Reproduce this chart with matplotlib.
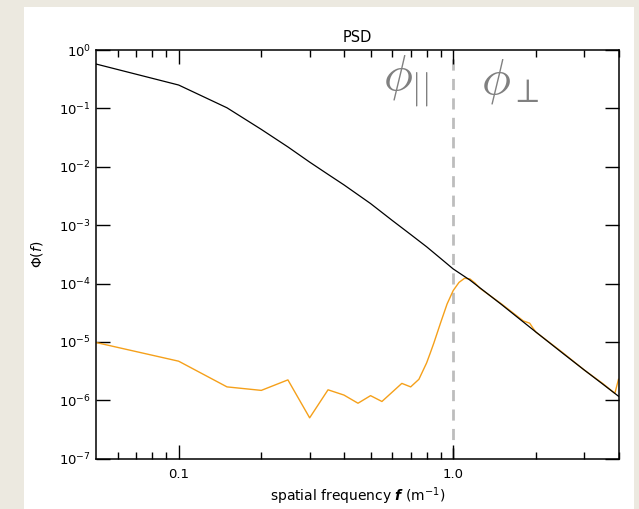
import numpy as np
import matplotlib
matplotlib.use("Agg")
import matplotlib.pyplot as plt
from matplotlib.patches import Rectangle
from matplotlib.ticker import FixedLocator, NullLocator, FixedFormatter

# black curve: total PSD (log10 values)
f_tot = [0.05, 0.1, 0.15, 0.2, 0.25, 0.3, 0.35, 0.4, 0.5, 0.6, 0.7, 0.8, 0.9,
         1.0, 1.15, 1.5, 2.0, 2.5, 3.0, 3.5, 4.0]
logpsd_tot = [-0.24, -0.60, -0.99, -1.36, -1.66, -1.92, -2.13, -2.31, -2.63, -2.92,
              -3.16, -3.37, -3.57, -3.75, -3.94, -4.36, -4.83, -5.19, -5.48, -5.72, -5.93]

# orange curve: perpendicular component
f_perp = [0.05, 0.1, 0.15, 0.2, 0.25, 0.3, 0.35, 0.4, 0.45, 0.5, 0.55, 0.65, 0.7, 0.75,
          0.8, 0.825, 0.85, 0.9, 0.95, 1.0, 1.05, 1.1, 1.15, 1.2, 1.25, 1.5, 1.8, 1.9,
          1.95, 2.0, 2.5, 3.0, 3.5, 3.88, 4.0]
logpsd_perp = [-5.01, -5.33, -5.77, -5.83, -5.65, -6.30, -5.82, -5.91, -6.05, -5.92, -6.02,
               -5.71, -5.77, -5.64, -5.36, -5.19, -5.02, -4.67, -4.35, -4.12, -3.98, -3.91,
               -3.92, -3.99, -4.08, -4.35, -4.64, -4.68, -4.76, -4.83, -5.18, -5.48, -5.71,
               -5.88, -5.64]

psd_tot = 10.0 ** np.array(logpsd_tot)
psd_perp = 10.0 ** np.array(logpsd_perp)

fig = plt.figure(figsize=(6.39, 5.09), dpi=100)
fig.patch.set_facecolor("#ece9e0")
fig.patches.append(Rectangle((24 / 639, 0), (634 - 24) / 639, 1 - 7 / 509,
                             transform=fig.transFigure, facecolor="white",
                             edgecolor="none", zorder=-10))

ax = fig.add_axes([96 / 639, 1 - 458.7 / 509, (618.5 - 96) / 639, (458.7 - 50) / 509])
ax.set_zorder(5)
ax.set_xscale("log")
ax.set_yscale("log")

ax.plot(f_tot, psd_tot, color="black", lw=0.9, zorder=3)
ax.plot(f_perp, psd_perp, color="#f5a01a", lw=1.0, zorder=2)
ax.axvline(1.0, color="#bdbdbd", lw=2.0, ls=(0, (4, 3)), zorder=1)

ax.set_xlim(0.05, 4.0)
ax.set_ylim(1e-7, 1.0)

ax.xaxis.set_major_locator(FixedLocator([0.1, 1.0]))
ax.xaxis.set_major_formatter(FixedFormatter(["0.1", "1.0"]))
ax.xaxis.set_minor_locator(FixedLocator([0.06, 0.07, 0.08, 0.09, 0.2, 0.3, 0.4, 0.5,
                                         0.6, 0.7, 0.8, 0.9, 2, 3, 4]))
ax.xaxis.set_minor_formatter(FixedFormatter([""] * 15))
ax.yaxis.set_major_locator(FixedLocator([10.0 ** -k for k in range(8)]))
ax.yaxis.set_minor_locator(NullLocator())

ax.tick_params(which="both", direction="in", top=True, right=True, labelsize=9.5)
ax.tick_params(which="major", length=10, width=1)
ax.tick_params(which="minor", length=5, width=1)
ax.tick_params(axis="x", pad=7)
for s in ax.spines.values():
    s.set_linewidth(1.1)

ax.set_title("PSD", fontsize=10.5, pad=6)
ax.set_xlabel(r"spatial frequency $\mathbfit{f}$ (m$^{-1}$)", fontsize=10, labelpad=3)
ax.set_ylabel(r"$\Phi(f)$", fontsize=10, labelpad=10)

ax.text(0.67, 0.29, r"$\phi_{||}$", color="#808080", fontsize=35,
        ha="center", va="center", math_fontfamily="cm")
ax.text(1.62, 0.29, r"$\phi_{\perp}$", color="#808080", fontsize=35,
        ha="center", va="center", math_fontfamily="cm")

fig.savefig("out.png", dpi=100, facecolor=fig.get_facecolor())
